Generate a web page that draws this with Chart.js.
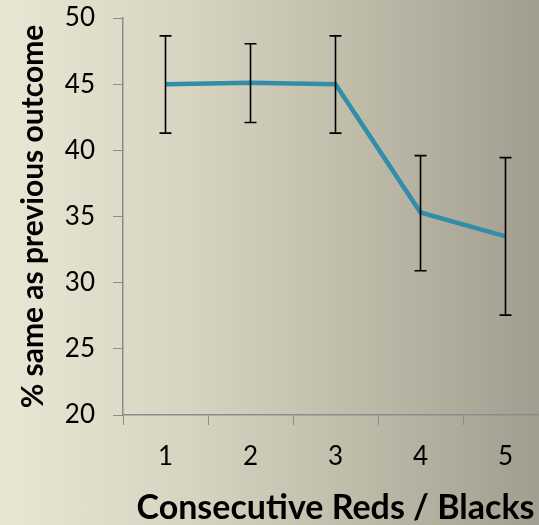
<!DOCTYPE html>
<html>
<head>
<meta charset="utf-8">
<script src="https://cdn.jsdelivr.net/npm/chart.js@4"></script>
<style>
  html, body { margin: 0; padding: 0; }
  body {
    width: 539px; height: 525px; overflow: hidden;
    background: linear-gradient(to right, #e9e7d3 0%, #d7d5c1 35%, #bdbaa8 68%, #a19e90 100%);
  }
  /* plot runs a few pixels past the right edge, like the cropped original */
  #wrap { position: relative; width: 548px; height: 525px; }
</style>
</head>
<body>
<div id="wrap"><canvas id="chart"></canvas></div>
<script>
// ── Data ──
const categories = ['1', '2', '3', '4', '5'];
const sameAsPrevious = [45.0, 45.1, 45.0, 35.3, 33.5];
const errorUpper = [48.65, 48.05, 48.65, 39.6, 39.45];
const errorLower = [41.3, 42.1, 41.3, 30.9, 27.55];

const axisGray = '#8c8c8c';
const tickFont = { family: 'Lato', size: 26 };

// ── Error bars drawn through the chart scales ──
const errorBars = {
  id: 'errorBars',
  afterDatasetsDraw(chart) {
    const { ctx, scales: { x, y } } = chart;
    ctx.save();
    ctx.strokeStyle = '#000';
    ctx.lineWidth = 1.6;
    categories.forEach((c, i) => {
      const px = x.getPixelForValue(i);
      const top = y.getPixelForValue(errorUpper[i]);
      const bot = y.getPixelForValue(errorLower[i]);
      ctx.beginPath();
      ctx.moveTo(px, top); ctx.lineTo(px, bot);
      ctx.moveTo(px - 6, top); ctx.lineTo(px + 6, top);
      ctx.moveTo(px - 6, bot); ctx.lineTo(px + 6, bot);
      ctx.stroke();
    });
    ctx.restore();
  }
};

new Chart(document.getElementById('chart'), {
  type: 'line',
  data: {
    labels: categories,
    datasets: [{
      data: sameAsPrevious,
      borderColor: '#338ca8',
      borderWidth: 4.5,
      pointRadius: 0,
      tension: 0,
      fill: false
    }]
  },
  plugins: [errorBars],
  options: {
    responsive: true,
    maintainAspectRatio: false,
    animation: false,
    layout: { padding: { left: 0, right: 0, top: 18, bottom: 0 } },
    plugins: { legend: { display: false }, tooltip: { enabled: false } },
    scales: {
      x: {
        offset: true,
        grid: { display: true, drawOnChartArea: false, offset: true, tickLength: 10, color: axisGray },
        border: { color: axisGray, width: 1.5 },
        ticks: { color: '#000', font: tickFont, padding: 16, maxRotation: 0 },
        title: { display: true, text: 'Consecu\u200Ctive Reds / Blacks', color: '#000', font: { family: 'Lato', size: 34, weight: 'bold', lineHeight: 1 }, padding: { top: 0, bottom: 0 } },
        afterFit(scale) { scale.height = 110; scale.paddingLeft = 0; scale.paddingRight = 0; }
      },
      y: {
        min: 20,
        max: 50,
        grid: { display: true, drawOnChartArea: false, tickLength: 10, color: axisGray },
        border: { color: axisGray, width: 1.5 },
        ticks: { stepSize: 5, color: '#000', font: tickFont, padding: 18 },
        title: { display: true, text: '% same as previous outcome', color: '#000', font: { family: 'Lato', size: 30, weight: 'bold' }, padding: { top: 15, bottom: 0 } },
        afterFit(scale) { scale.width = 123; scale.paddingTop = 0; scale.paddingBottom = 0; }
      }
    }
  }
});
</script>
</body>
</html>
